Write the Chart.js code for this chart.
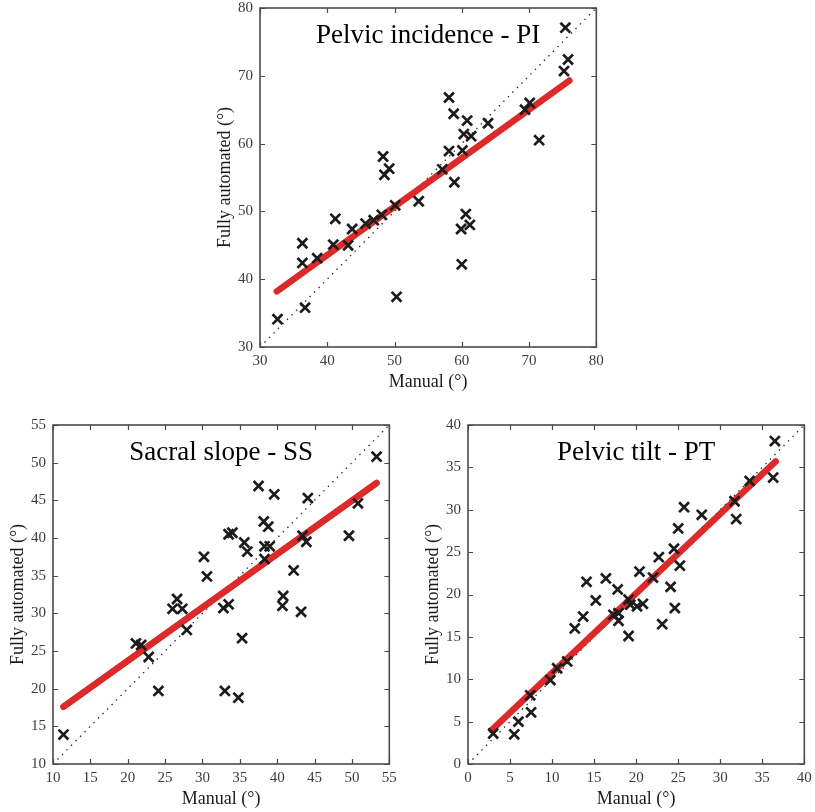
<!DOCTYPE html>
<html lang="en">
  <head>
    <meta charset="UTF-8" />
    <title>Manual vs fully automated</title>
    <script src="https://cdn.jsdelivr.net/npm/chart.js@4.4.1/dist/chart.umd.min.js"></script>
    <style>
      body { margin: 0; background: #fff; }
      .wrap { position: relative; width: 815px; height: 812px; }
      canvas { position: absolute; }
      #pi { left: 207px; top: -2px; }
      #ss { left: 0px; top: 415px; }
      #pt { left: 415px; top: 415px; }
    </style>
  </head>
  <body>
    <div class="wrap">
      <canvas id="pi" width="399" height="395"></canvas>
      <canvas id="ss" width="399" height="395"></canvas>
      <canvas id="pt" width="399" height="395"></canvas>
    </div>
    <script>
      // Pelvic incidence
      var piManual = [32.6, 36.7, 36.3, 36.3, 38.5, 40.9, 41.2, 43.1, 43.7, 45.7, 46.9, 48.1, 48.3, 48.5, 49.2, 50.1, 50.3, 53.6, 57.1, 58.1, 58.1, 58.8, 58.9, 59.9, 60.0, 60.1, 60.3, 60.6, 60.8, 61.2, 61.4, 63.9, 69.4, 70.1, 71.5, 75.2, 75.4, 75.8]
      var piAuto = [34.1, 35.8, 45.3, 42.4, 43.1, 45.1, 48.9, 45.0, 47.4, 48.2, 48.7, 49.5, 58.1, 55.4, 56.3, 50.9, 37.4, 51.5, 56.2, 58.9, 66.8, 64.4, 54.3, 47.4, 42.2, 59.0, 61.4, 49.6, 63.4, 48.0, 61.1, 63.0, 65.0, 66.0, 60.5, 70.7, 77.1, 72.4]
      var piFitX = [32.5, 76.0]
      var piFitY = [38.2, 69.3]
      var piTicks = [30, 40, 50, 60, 70, 80]

      // Sacral slope
      var ssManual = [11.4, 21.1, 21.8, 22.8, 24.1, 26.0, 26.6, 27.3, 27.9, 30.2, 30.6, 32.8, 33.5, 33.0, 33.5, 34.0, 34.8, 35.3, 35.6, 36.0, 37.5, 38.2, 38.3, 38.3, 38.8, 39.0, 39.6, 40.8, 40.7, 42.2, 43.2, 43.4, 43.9, 44.1, 49.6, 50.8, 53.3]
      var ssAuto = [13.9, 26.0, 25.8, 24.2, 19.7, 30.6, 31.9, 30.6, 27.8, 37.5, 34.9, 30.7, 31.2, 19.7, 40.5, 40.7, 18.8, 26.7, 39.4, 38.2, 46.9, 42.2, 37.2, 38.9, 41.5, 38.9, 45.8, 32.3, 31.0, 35.7, 30.2, 40.3, 39.5, 45.3, 40.3, 44.6, 50.8]
      var ssFitX = [11.4, 53.3]
      var ssFitY = [17.6, 47.3]
      var ssTicks = [10, 15, 20, 25, 30, 35, 40, 45, 50, 55]

      // Pelvic tilt
      var ptManual = [3.0, 5.5, 6.0, 7.4, 7.5, 9.8, 10.6, 11.8, 12.7, 13.7, 14.1, 15.2, 16.4, 17.3, 17.8, 17.9, 17.9, 19.1, 19.1, 19.3, 20.1, 20.8, 20.4, 22.0, 22.7, 23.1, 24.1, 24.5, 24.6, 25.0, 25.2, 25.7, 27.8, 31.7, 31.9, 33.5, 36.3, 36.5]
      var ptAuto = [3.6, 3.5, 5.0, 8.1, 6.1, 9.9, 11.3, 12.1, 16.0, 17.4, 21.5, 19.3, 21.9, 17.6, 20.6, 17.8, 16.9, 15.1, 19.4, 18.8, 18.6, 18.9, 22.7, 22.0, 24.4, 16.5, 20.9, 25.4, 18.4, 27.8, 23.4, 30.3, 29.4, 31.0, 28.9, 33.4, 33.8, 38.1]
      var ptFitX = [2.8, 36.6]
      var ptFitY = [4.0, 35.7]
      var ptTicks = [0, 5, 10, 15, 20, 25, 30, 35, 40]

      var serif = '"Liberation Serif", "Times New Roman", serif'

      // box round the plot, ticks pointing inward on all four sides, title inside
      const frame = {
        id: 'frame',
        afterDatasetsDraw(chart, args, opts) {
          const ctx = chart.ctx
          const a = chart.chartArea
          const sx = chart.scales.x, sy = chart.scales.y
          ctx.save()
          ctx.strokeStyle = '#4a4a4a'
          ctx.lineWidth = 1.2
          ctx.beginPath()
          sx.ticks.forEach(t => {
            const px = Math.round(sx.getPixelForValue(t.value)) + 0.5
            ctx.moveTo(px, a.bottom); ctx.lineTo(px, a.bottom - 5)
            ctx.moveTo(px, a.top); ctx.lineTo(px, a.top + 5)
          })
          sy.ticks.forEach(t => {
            const py = Math.round(sy.getPixelForValue(t.value)) + 0.5
            ctx.moveTo(a.left, py); ctx.lineTo(a.left + 5, py)
            ctx.moveTo(a.right, py); ctx.lineTo(a.right - 5, py)
          })
          ctx.stroke()
          ctx.lineWidth = 1.6
          ctx.strokeRect(a.left, a.top, a.right - a.left, a.bottom - a.top)
          ctx.fillStyle = '#000'
          ctx.font = '27px ' + serif
          ctx.textAlign = 'center'
          ctx.textBaseline = 'middle'
          ctx.fillText(opts.text, (a.left + a.right) / 2, a.top + 28)
          ctx.restore()
        }
      }

      function axis(ticks, title, horizontal) {
        return {
          type: 'linear',
          min: ticks[0],
          max: ticks[ticks.length - 1],
          afterBuildTicks: s => { s.ticks = ticks.map(v => ({ value: v })) },
          afterFit: s => {
            if (horizontal) { s.height = 46; s.paddingLeft = 0; s.paddingRight = 0 }
            else { s.width = 53; s.paddingTop = 0; s.paddingBottom = 0 }
          },
          grid: { display: false, drawTicks: false },
          border: { display: false },
          ticks: { color: '#3c3c3c', padding: horizontal ? 5 : 7, font: { family: serif, size: 15 } },
          title: {
            display: true, text: title, color: '#1a1a1a',
            font: { family: serif, size: 18 },
            padding: horizontal ? { top: 0, bottom: 0 } : { top: 7, bottom: 0 }
          }
        }
      }

      function makeChart(id, name, manual, auto, fitX, fitY, ticks) {
        const lo = ticks[0], hi = ticks[ticks.length - 1]
        return new Chart(id, {
          type: 'scatter',
          data: {
            datasets: [
              {
                order: 0,
                data: manual.map((m, i) => ({ x: m, y: auto[i] })),
                pointStyle: 'crossRot',
                pointRadius: 7,
                pointHoverRadius: 7,
                borderWidth: 2.7,
                borderColor: '#1c1c1c',
                backgroundColor: '#1c1c1c'
              },
              {
                order: 1,
                type: 'line',
                data: fitX.map((v, i) => ({ x: v, y: fitY[i] })),
                borderColor: '#dc2a2a',
                borderWidth: 6.5,
                borderCapStyle: 'round',
                pointRadius: 0
              },
              {
                order: 2,
                type: 'line',
                data: [{ x: lo, y: lo }, { x: hi, y: hi }],
                borderColor: '#222',
                borderWidth: 1.3,
                borderDash: [1.4, 5],
                pointRadius: 0
              }
            ]
          },
          options: {
            responsive: false,
            animation: false,
            devicePixelRatio: 1,
            layout: { padding: { top: 10, right: 6, bottom: 0, left: 0 } },
            plugins: { legend: { display: false }, tooltip: { enabled: false }, frame: { text: name } },
            scales: {
              x: axis(ticks, 'Manual (°)', true),
              y: axis(ticks, 'Fully automated (°)', false)
            }
          },
          plugins: [frame]
        })
      }

      makeChart('pi', 'Pelvic incidence - PI', piManual, piAuto, piFitX, piFitY, piTicks)
      makeChart('ss', 'Sacral slope - SS', ssManual, ssAuto, ssFitX, ssFitY, ssTicks)
      makeChart('pt', 'Pelvic tilt - PT', ptManual, ptAuto, ptFitX, ptFitY, ptTicks)
    </script>
  </body>
</html>
